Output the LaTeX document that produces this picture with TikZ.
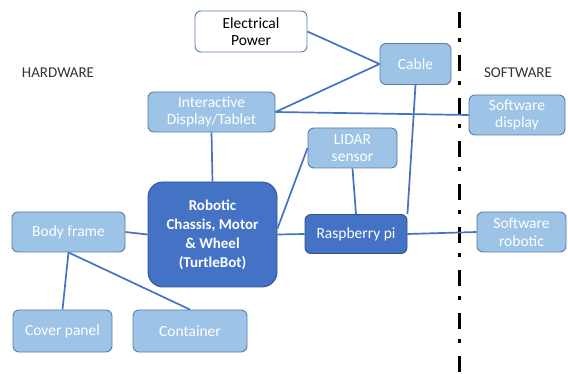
\documentclass[tikz,border=0pt]{standalone}
\usepackage{fontspec}
\setmainfont{Carlito}
\usetikzlibrary{calc}

\definecolor{lightbox}{HTML}{9DC3E6}
\definecolor{lightedge}{HTML}{5A7DA8}
\definecolor{darkbox}{HTML}{4472C4}
\definecolor{darkedge}{HTML}{2F528F}
\definecolor{linkblue}{HTML}{4472C4}

\begin{document}
\begin{tikzpicture}[x=1pt, y=-1pt,
  hw/.style={draw=lightedge, line width=0.9pt, fill=lightbox, rounded corners=6pt, text=white,
    align=center, font=\fontsize{15.5}{17.5}\selectfont, inner sep=1pt},
  core/.style={draw=darkedge, line width=0.9pt, fill=darkbox, rounded corners=6pt, text=white,
    align=center, font=\fontsize{15.5}{17.5}\selectfont, inner sep=1pt},
  plain/.style={draw=lightedge, line width=0.9pt, fill=white, rounded corners=6pt, text=black,
    align=center, font=\fontsize{15.5}{17.5}\selectfont, inner sep=1pt},
  side/.style={text=black!80, font=\fontsize{15}{17}\selectfont},
  link/.style={draw=linkblue, line width=1.7pt}]
  \useasboundingbox (0,0) rectangle (568,374);

  % separation between hardware and software
  \draw [line width=3pt, dash pattern=on 16pt off 10pt on 4pt off 13pt] (459,12) -- (459,374);
  \node [side] (hwl) at (58,73) {HARDWARE};
  \node [side] (swl) at (518,73) {SOFTWARE};

  \node [plain, minimum width=112, minimum height=41] (pw) at (251,31.5) {Electrical\\Power};
  \node [hw, minimum width=71, minimum height=41] (cab) at (415.5,64) {Cable};
  \node [hw, minimum width=127, minimum height=40] (disp) at (211.5,112) {Interactive\\Display/Tablet};
  \node [hw, minimum width=96, minimum height=40] (sd) at (517,115) {Software\\display};
  \node [hw, minimum width=89, minimum height=40] (lid) at (352.5,148) {LIDAR\\sensor};
  \node [core, rounded corners=15pt, minimum width=129, minimum height=105,
    font=\fontsize{15}{19}\selectfont\bfseries] (chs) at (212.5,234.5)
    {Robotic\\Chassis, Motor\\\& Wheel\\(TurtleBot)};
  \node [core, minimum width=102, minimum height=39] (rpi) at (356,234) {Raspberry pi};
  \node [hw, minimum width=89, minimum height=40] (sr) at (521.5,232) {Software\\robotic};
  \node [hw, minimum width=113, minimum height=40] (bf) at (68.5,232) {Body frame};
  \node [hw, minimum width=99, minimum height=42] (cp) at (62.5,331) {Cover panel};
  \node [hw, minimum width=114, minimum height=42] (ct) at (190,331) {Container};

  \coordinate (cabin) at ($(cab.west)+(0,0)$);
  \path [link] (pw.east) -- (cabin);
  \path [link] (disp.east) -- (cabin);
  \path [link] (disp.east) -- (sd.west);
  \path [link] (cab.south) -- (rpi.north east);
  \path [link] (disp.south) -- (chs.north);
  \path [link] (lid.west) -- ($(chs.east)+(0,-6)$);
  \path [link] (chs.east) -- (rpi.west);
  \path [link] (lid.south) -- ($(rpi.north)+(0,0)$);
  \path [link] (rpi.east) -- (sr.west);
  \path [link] (bf.east) -- (chs.west);
  \path [link] (bf.south) -- (cp.north);
  \path [link] (bf.south) -- (ct.north);
\end{tikzpicture}
\end{document}
